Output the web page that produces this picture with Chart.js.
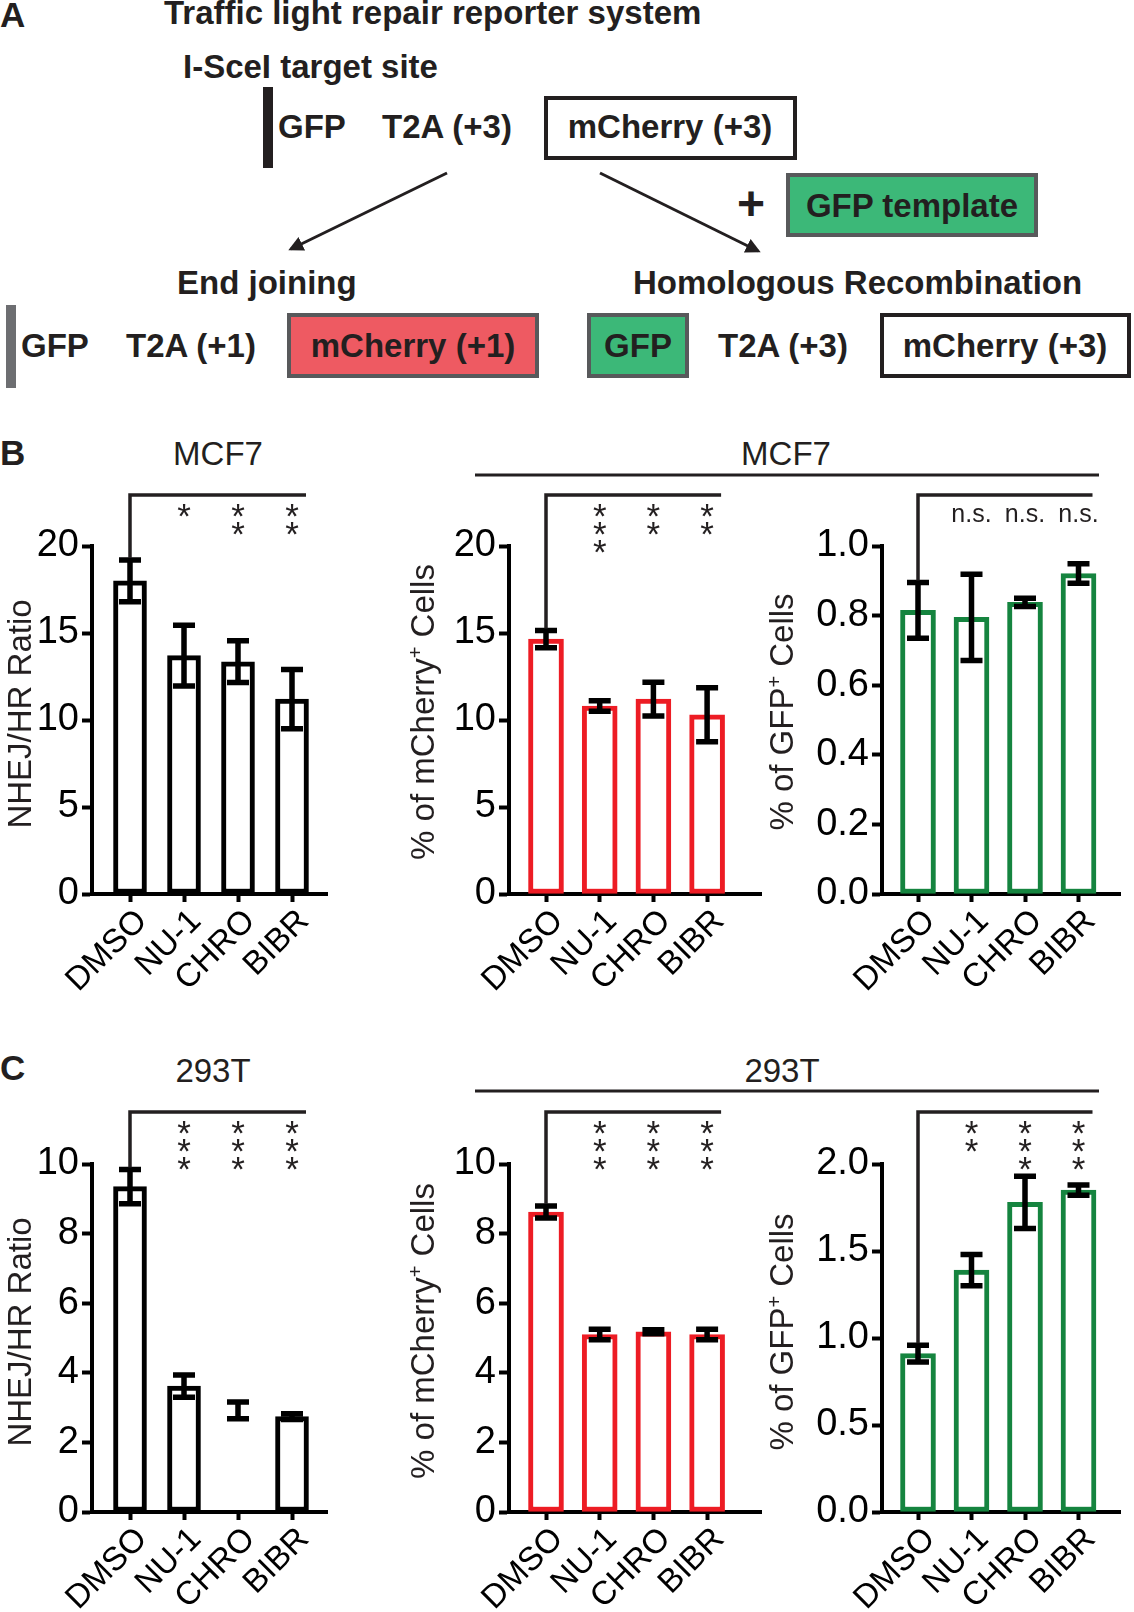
<!DOCTYPE html>
<html>
<head>
<meta charset="utf-8">
<script src="https://cdn.jsdelivr.net/npm/chart.js@4.4.0/dist/chart.umd.min.js"></script>
<style>
  html, body { margin: 0; padding: 0; background: #fff; }
  #page { position: relative; width: 1134px; height: 1612px; overflow: hidden; }
  #page svg, #page canvas { position: absolute; }
</style>
</head>
<body>
<div id="page">
<svg width="1134" height="1612" style="left:0;top:0">
  <defs>
    <marker id="head" viewBox="0 0 10 10" refX="8" refY="5" markerWidth="5" markerHeight="5" orient="auto">
      <path d="M0,0 L10,5 L0,10 z" fill="#231f20"/>
    </marker>
  </defs>
  <g font-family="Liberation Sans, Arial, sans-serif" font-weight="bold" font-size="33" fill="#231f20">
    <text x="0" y="27" font-size="35">A</text>
    <text x="164" y="24">Traffic light repair reporter system</text>
    <text x="183" y="78">I-SceI target site</text>
    <rect x="263" y="87" width="10" height="81" fill="#231f20"/>
    <text x="278" y="138">GFP</text>
    <text x="382" y="138">T2A (+3)</text>
    <rect x="546" y="98" width="249" height="60" fill="#fff" stroke="#231f20" stroke-width="4"/>
    <text x="670" y="138" text-anchor="middle">mCherry (+3)</text>
    <line x1="447" y1="173" x2="291" y2="249" stroke="#231f20" stroke-width="3" marker-end="url(#head)"/>
    <line x1="600" y1="173" x2="758" y2="251" stroke="#231f20" stroke-width="3" marker-end="url(#head)"/>
    <text x="751" y="220" font-size="48" text-anchor="middle">+</text>
    <rect x="788" y="175" width="248" height="60" fill="#3cb878" stroke="#58595b" stroke-width="4"/>
    <text x="912" y="217" text-anchor="middle">GFP template</text>
    <text x="177" y="294">End joining</text>
    <text x="633" y="294">Homologous Recombination</text>
    <rect x="6" y="305" width="10" height="83" fill="#6d6e71"/>
    <text x="21" y="357">GFP</text>
    <text x="126" y="357">T2A (+1)</text>
    <rect x="289" y="315" width="248" height="61" fill="#ee5a62" stroke="#58595b" stroke-width="4"/>
    <text x="413" y="357" text-anchor="middle">mCherry (+1)</text>
    <rect x="589" y="315" width="98" height="61" fill="#3cb878" stroke="#58595b" stroke-width="4"/>
    <text x="638" y="357" text-anchor="middle">GFP</text>
    <text x="718" y="357">T2A (+3)</text>
    <rect x="882" y="315" width="247" height="61" fill="#fff" stroke="#231f20" stroke-width="4"/>
    <text x="1005" y="357" text-anchor="middle">mCherry (+3)</text>
    <text x="0" y="465" font-size="35">B</text>
    <text x="0" y="1080" font-size="35">C</text>
  </g>
  <g font-family="Liberation Sans, Arial, sans-serif" font-size="33" fill="#231f20">
    <text x="218" y="465" text-anchor="middle">MCF7</text>
    <text x="786" y="465" text-anchor="middle">MCF7</text>
    <line x1="475" y1="475" x2="1099" y2="475" stroke="#231f20" stroke-width="3"/>
    <text x="213" y="1082" text-anchor="middle">293T</text>
    <text x="782" y="1082" text-anchor="middle">293T</text>
    <line x1="475" y1="1091" x2="1099" y2="1091" stroke="#231f20" stroke-width="3"/>
  </g>
</svg>
<canvas id="b1"></canvas>
<canvas id="b2"></canvas>
<canvas id="b3"></canvas>
<canvas id="c1"></canvas>
<canvas id="c2"></canvas>
<canvas id="c3"></canvas>
</div>
<script>
const drugs = ['DMSO', 'NU-1', 'CHRO', 'BIBR'];

// MCF7
const mcf7Ratio = [18.0, 13.7, 13.35, 11.2];
const mcf7RatioErr = [1.2, 1.75, 1.2, 1.7];
const mcf7Cherry = [14.65, 10.8, 11.2, 10.3];
const mcf7CherryErr = [0.5, 0.3, 0.97, 1.55];
const mcf7Gfp = [0.815, 0.795, 0.838, 0.921];
const mcf7GfpErr = [0.08, 0.124, 0.012, 0.028];
const mcf7RatioMarks = ['*', '**', '**'];
const mcf7CherryMarks = ['***', '**', '**'];
const mcf7GfpMarks = ['n.s.', 'n.s.', 'n.s.'];

// 293T
const t293Ratio = [9.35, 3.62, 2.92, 2.74];
const t293RatioErr = [0.49, 0.32, 0.24, 0.08];
const t293Cherry = [8.62, 5.1, 5.18, 5.1];
const t293CherryErr = [0.17, 0.15, 0.06, 0.15];
const t293Gfp = [0.91, 1.39, 1.78, 1.85];
const t293GfpErr = [0.048, 0.09, 0.15, 0.03];
const t293RatioMarks = ['***', '***', '***'];
const t293CherryMarks = ['***', '***', '***'];
const t293GfpMarks = ['**', '***', '***'];

const family = "'Liberation Sans', Arial, sans-serif";
const BLACK = '#000000', RED = '#ed1c24', GREEN = '#15843f';

const ratioTitle = [{ t: 'NHEJ/HR Ratio' }];
const cherryTitle = [{ t: '% of mCherry' }, { t: '+', sup: true }, { t: ' Cells' }];
const gfpTitle = [{ t: '% of GFP' }, { t: '+', sup: true }, { t: ' Cells' }];

// page geometry for each plot (pixels of the 1134x1612 page)
const panels = [
  { id: 'b1', left: 0, top: 480, w: 340, h: 520, axisX: 92, axisEnd: 327, firstBar: 130, gap: 54, barW: 33,
    yTop: 546, yBottom: 894, max: 20, step: 5, dec: 0, bracketY: 495,
    values: mcf7Ratio, errs: mcf7RatioErr, marks: mcf7RatioMarks,
    edge: [BLACK, BLACK, BLACK, BLACK], title: ratioTitle, titleX: 19, titleY: 714 },
  { id: 'b2', left: 400, top: 480, w: 370, h: 520, axisX: 509, axisEnd: 761, firstBar: 546, gap: 53.7, barW: 35,
    yTop: 546, yBottom: 894, max: 20, step: 5, dec: 0, bracketY: 495,
    values: mcf7Cherry, errs: mcf7CherryErr, marks: mcf7CherryMarks,
    edge: [RED, RED, RED, RED], title: cherryTitle, titleX: 422, titleY: 712 },
  { id: 'b3', left: 750, top: 480, w: 384, h: 520, axisX: 882, axisEnd: 1120, firstBar: 918, gap: 53.5, barW: 35,
    yTop: 546, yBottom: 894, max: 1, step: 0.2, dec: 1, bracketY: 495,
    values: mcf7Gfp, errs: mcf7GfpErr, marks: mcf7GfpMarks,
    edge: [GREEN, GREEN, GREEN, GREEN], title: gfpTitle, titleX: 781, titleY: 712 },
  { id: 'c1', left: 0, top: 1097, w: 340, h: 515, axisX: 92, axisEnd: 327, firstBar: 130, gap: 54, barW: 33,
    yTop: 1164, yBottom: 1512, max: 10, step: 2, dec: 0, bracketY: 1112,
    values: t293Ratio, errs: t293RatioErr, marks: t293RatioMarks,
    edge: [BLACK, BLACK, 'rgba(0,0,0,0)', BLACK], title: ratioTitle, titleX: 19, titleY: 1332 },
  { id: 'c2', left: 400, top: 1097, w: 370, h: 515, axisX: 509, axisEnd: 761, firstBar: 546, gap: 53.7, barW: 35,
    yTop: 1164, yBottom: 1512, max: 10, step: 2, dec: 0, bracketY: 1112,
    values: t293Cherry, errs: t293CherryErr, marks: t293CherryMarks,
    edge: [RED, RED, RED, RED], title: cherryTitle, titleX: 422, titleY: 1331 },
  { id: 'c3', left: 750, top: 1097, w: 384, h: 515, axisX: 882, axisEnd: 1120, firstBar: 918, gap: 53.5, barW: 35,
    yTop: 1164, yBottom: 1512, max: 2, step: 0.5, dec: 1, bracketY: 1112,
    values: t293Gfp, errs: t293GfpErr, marks: t293GfpMarks,
    edge: [GREEN, GREEN, GREEN, GREEN], title: gfpTitle, titleX: 781, titleY: 1332 }
];

function drawTitle(ctx, parts, cx, cy) {
  ctx.save();
  ctx.translate(cx, cy);
  ctx.rotate(-Math.PI / 2);
  ctx.fillStyle = '#231f20';
  ctx.textAlign = 'left';
  ctx.textBaseline = 'alphabetic';
  const fontOf = pt => (pt.sup ? '20px ' : '33px ') + family;
  let total = 0;
  parts.forEach(pt => { ctx.font = fontOf(pt); total += ctx.measureText(pt.t).width; });
  let x = -total / 2;
  parts.forEach(pt => {
    ctx.font = fontOf(pt);
    ctx.fillText(pt.t, x, pt.sup ? 0 : 12);
    x += ctx.measureText(pt.t).width;
  });
  ctx.restore();
}

function marksPlugin(p) {
  return {
    id: 'marks',
    afterDatasetsDraw(chart) {
      const ctx = chart.ctx, xs = chart.scales.x, ys = chart.scales.y;
      ctx.save();
      // error bars
      ctx.strokeStyle = '#000';
      ctx.lineWidth = 5.5;
      p.values.forEach((v, i) => {
        const x = xs.getPixelForValue(i);
        const hi = ys.getPixelForValue(v + p.errs[i]);
        const lo = ys.getPixelForValue(v - p.errs[i]);
        ctx.beginPath();
        ctx.moveTo(x, hi); ctx.lineTo(x, lo);
        ctx.moveTo(x - 11, hi); ctx.lineTo(x + 11, hi);
        ctx.moveTo(x - 11, lo); ctx.lineTo(x + 11, lo);
        ctx.stroke();
      });
      // comparison bracket from DMSO
      const by = p.bracketY - p.top;
      const bx0 = xs.getPixelForValue(0);
      const bx1 = xs.getPixelForValue(drugs.length - 1) + 14;
      const drop = ys.getPixelForValue(p.values[0] + p.errs[0]) - 2;
      ctx.strokeStyle = '#231f20';
      ctx.lineWidth = 3.5;
      ctx.beginPath();
      ctx.moveTo(bx0, drop); ctx.lineTo(bx0, by); ctx.lineTo(bx1, by);
      ctx.stroke();
      // significance marks
      ctx.fillStyle = '#231f20';
      ctx.textAlign = 'center';
      ctx.textBaseline = 'alphabetic';
      p.marks.forEach((m, k) => {
        const x = xs.getPixelForValue(k + 1);
        if (m === 'n.s.') {
          ctx.font = '25px ' + family;
          ctx.fillText(m, x, by + 27);
        } else {
          ctx.font = '35px ' + family;
          for (let s = 0; s < m.length; s++) ctx.fillText('*', x, by + 13 + s * 18 + 20);
        }
      });
      ctx.restore();
      drawTitle(ctx, p.title, p.titleX - p.left, p.titleY - p.top);
    }
  };
}

function makeChart(p) {
  const canvas = document.getElementById(p.id);
  canvas.width = p.w;
  canvas.height = p.h;
  canvas.style.left = p.left + 'px';
  canvas.style.top = p.top + 'px';
  const axisX = p.axisX - p.left;
  const axisEnd = p.axisEnd - p.left;
  const firstBar = p.firstBar - p.left;
  const yTicks = [];
  for (let k = 0; k * p.step <= p.max + 1e-9; k++) yTicks.push({ value: Math.round(k * p.step * 1000) / 1000 });

  return new Chart(canvas, {
    type: 'bar',
    data: {
      datasets: [{
        data: p.values.map((v, i) => ({ x: i, y: v })),
        backgroundColor: '#ffffff',
        borderColor: p.edge,
        borderWidth: 5,
        borderSkipped: false,
        barThickness: p.barW
      }]
    },
    options: {
      responsive: false,
      animation: false,
      devicePixelRatio: 1,
      layout: { padding: { top: p.yTop - p.top, right: p.w - axisEnd, left: 0, bottom: 0 } },
      plugins: { legend: { display: false }, tooltip: { enabled: false } },
      scales: {
        x: {
          type: 'linear',
          min: (axisX - firstBar) / p.gap,
          max: (axisEnd - firstBar) / p.gap,
          offset: false,
          afterBuildTicks: s => { s.ticks = drugs.map((d, i) => ({ value: i })); },
          afterFit: s => { s.height = p.top + p.h - p.yBottom; s.paddingLeft = 0; s.paddingRight = 0; },
          grid: { offset: false, drawOnChartArea: false, tickLength: 8, tickWidth: 4, tickColor: '#000' },
          border: { color: '#000', width: 4 },
          ticks: {
            autoSkip: false, minRotation: 45, maxRotation: 45, padding: 0, labelOffset: 12,
            color: '#000', font: { size: 33, family: family },
            callback: v => drugs[v]
          }
        },
        y: {
          min: 0,
          max: p.max,
          afterBuildTicks: s => { s.ticks = yTicks; },
          afterFit: s => { s.width = axisX; s.paddingTop = 0; s.paddingBottom = 0; },
          grid: { drawOnChartArea: false, tickLength: 10, tickWidth: 4, tickColor: '#000' },
          border: { color: '#000', width: 4 },
          ticks: {
            padding: 3, color: '#000', font: { size: 38, family: family },
            callback: v => v.toFixed(p.dec)
          }
        }
      }
    },
    plugins: [marksPlugin(p)]
  });
}

panels.forEach(makeChart);
</script>
</body>
</html>
